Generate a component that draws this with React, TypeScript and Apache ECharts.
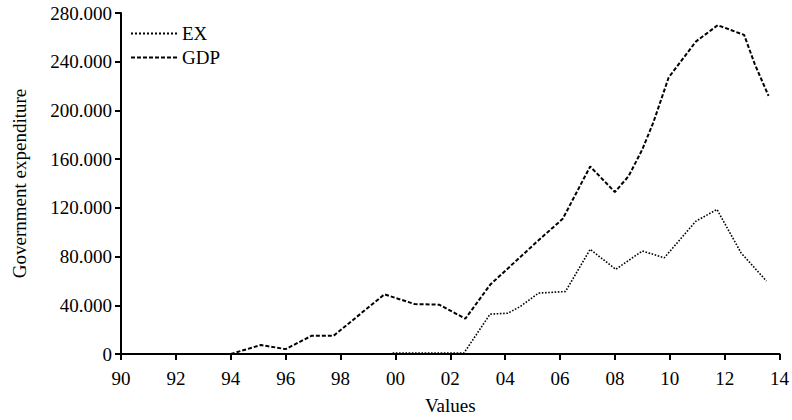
import React, { useEffect, useRef } from "react";
import * as echarts from "echarts";

const gdpYears = [1994.0, 1995.1, 1996.0, 1996.95, 1997.75, 1999.6, 2000.7, 2001.6, 2002.55, 2003.46, 2005.15, 2006.1, 2007.1, 2008.0, 2008.5, 2009.0, 2009.4, 2009.96, 2010.95, 2011.75, 2012.71, 2013.1, 2013.6];
const gdpValues = [0, 7.4, 4, 15, 15, 49, 41, 40.5, 29, 57, 92, 111, 154, 133, 146, 168, 190, 227, 256.5, 270, 262, 238, 212];

const exYears = [1999.9, 2002.5, 2003.45, 2004.1, 2004.55, 2005.22, 2006.2, 2007.1, 2008.03, 2009.0, 2009.8, 2010.95, 2011.72, 2012.6, 2013.52];
const exValues = [0.8, 0.8, 32.7, 33.5, 39, 50, 51.3, 86, 69.5, 84.6, 79, 109, 118.7, 83, 60];

const seriesNames = ["EX", "GDP"];
const xAxisName = "Values";
const yAxisName = "Government expenditure";

const FONT = "Liberation Serif";
const FS = 19;

export default function App() {
  const ref = useRef<HTMLDivElement>(null);
  useEffect(() => {
    if (!ref.current) return;
    const chart = echarts.init(ref.current, undefined, { renderer: "svg" });
    const axisLine = { show: true, lineStyle: { color: "#000", width: 2 } };
    const axisTick = { show: true, inside: false, length: 6, lineStyle: { color: "#000", width: 2 } };
    const label = { color: "#000", fontFamily: FONT, fontSize: FS };
    chart.setOption({
      animation: false,
      backgroundColor: "#fff",
      textStyle: { fontFamily: FONT },
      grid: { left: 121, right: 7, top: 13, bottom: 65, containLabel: false },
      legend: {
        left: 130,
        top: 24,
        padding: 0,
        orient: "vertical",
        itemWidth: 46,
        itemHeight: 14,
        itemGap: 5,
        data: seriesNames,
        itemStyle: { opacity: 0 },
        textStyle: { color: "#000", fontFamily: FONT, fontSize: FS },
      },
      xAxis: {
        type: "value",
        min: 1990,
        max: 2014,
        interval: 2,
        name: xAxisName,
        nameLocation: "middle",
        nameGap: 42,
        nameTextStyle: { color: "#000", fontFamily: FONT, fontSize: FS },
        axisLine,
        axisTick,
        splitLine: { show: false },
        axisLabel: {
          ...label,
          margin: 15,
          formatter: (v: number) => String(Math.round(v) % 100).padStart(2, "0"),
        },
      },
      yAxis: {
        type: "value",
        min: 0,
        max: 280,
        interval: 40,
        name: yAxisName,
        nameLocation: "middle",
        nameGap: 92,
        nameTextStyle: { color: "#000", fontFamily: FONT, fontSize: FS },
        axisLine,
        axisTick,
        splitLine: { show: false },
        axisLabel: {
          ...label,
          margin: 9,
          formatter: (v: number) => (v === 0 ? "0" : v.toFixed(3)),
        },
      },
      series: [
        {
          name: seriesNames[0],
          type: "line",
          symbol: "none",
          data: exYears.map((y, i) => [y, exValues[i]]),
          lineStyle: { color: "#000", width: 1.6, type: "dotted" },
          itemStyle: { color: "#000" },
        },
        {
          name: seriesNames[1],
          type: "line",
          symbol: "none",
          data: gdpYears.map((y, i) => [y, gdpValues[i]]),
          lineStyle: { color: "#000", width: 2, type: [4, 2] },
          itemStyle: { color: "#000" },
        },
      ],
    });
    return () => chart.dispose();
  }, []);
  return (
    <div
      ref={ref}
      style={{ position: "absolute", left: 0, top: 0, width: 792, height: 420 }}
    />
  );
}
